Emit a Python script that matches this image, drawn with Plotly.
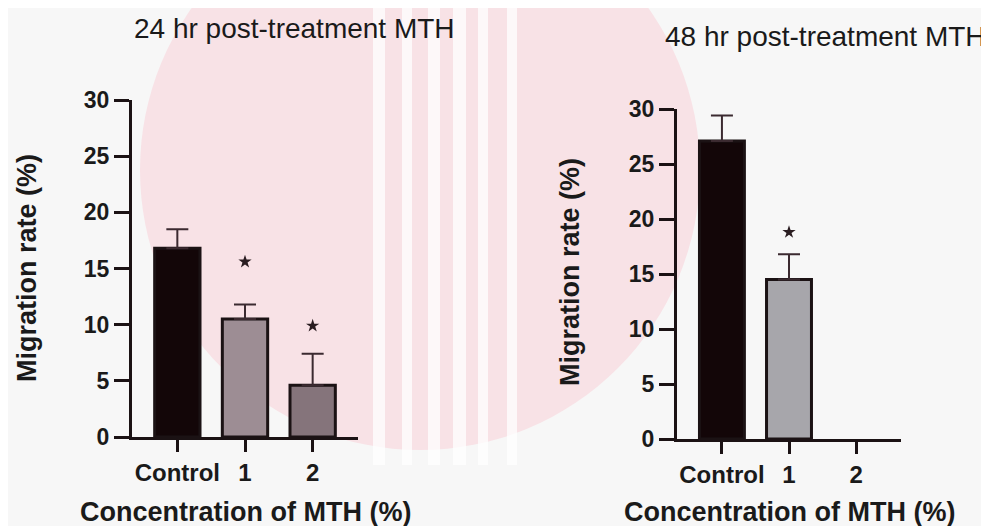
import plotly.graph_objects as go

# ---------------- data ----------------
categories = ["Control", "1", "2"]

rate_24h = [16.8, 10.5, 4.6]
sem_24h = [1.7, 1.3, 2.8]
star_24h = [None, 15.6, 9.9]

rate_48h = [27.1, 14.5, None]
sem_48h = [2.3, 2.3, None]
star_48h = [None, 18.8, None]

y_ticks = [0, 5, 10, 15, 20, 25, 30]

title_24h = "24 hr post-treatment MTH"
title_48h = "48 hr post-treatment MTH"
y_title = "Migration rate (%)"
x_title = "Concentration of MTH (%)"

# ---------------- style ----------------
W, H = 989, 526
OFF = 8  # page body margin of the rendered html
FONT = "Liberation Sans, Arial, sans-serif"
INK = "#1b1214"
colors_24h = ["#130608", "#9d8d94", "#85747b"]
colors_48h = ["#130608", "#a7a6ab", "#ffffff"]


def px_x(p):
    return (p - OFF) / W


def px_y(p):
    return 1 - (p - OFF) / H


fig = go.Figure()


def add_panel(vals, errs, stars, colors, xa, ya):
    fig.add_trace(go.Bar(
        x=categories, y=vals, width=0.67,
        marker=dict(color=colors, line=dict(color=INK, width=3)),
        error_y=dict(type="data", array=errs, arrayminus=[0] * len(errs),
                     symmetric=False, color="#3b2a30", thickness=2, width=11),
        xaxis=xa, yaxis=ya, showlegend=False, hoverinfo="x+y",
    ))
    fig.add_trace(go.Scatter(
        x=categories, y=stars, mode="markers",
        marker=dict(symbol="star", size=10, color="#2a1d21"),
        xaxis=xa, yaxis=ya, showlegend=False, hoverinfo="skip",
    ))


add_panel(rate_24h, sem_24h, star_24h, colors_24h, "x", "y")
add_panel(rate_48h, sem_48h, star_48h, colors_48h, "x2", "y2")

xaxis_common = dict(
    type="category", range=[-0.67, 2.67], showline=True, linewidth=3,
    linecolor=INK, ticks="outside", ticklen=12, tickwidth=3, tickcolor=INK,
    showgrid=False, zeroline=False, automargin=False, fixedrange=True,
    tickfont=dict(family=FONT, size=24, color="#1a1a1a", weight="bold"),
)
yaxis_common = dict(
    range=[0, 30], tickvals=y_ticks, showline=True, linewidth=3,
    linecolor=INK, ticks="outside", ticklen=15, tickwidth=3, tickcolor=INK,
    showgrid=False, zeroline=False, automargin=False, fixedrange=True,
    tickfont=dict(family=FONT, size=23, color="#1a1a1a", weight="bold"),
)

fig.update_layout(
    width=W, height=H,
    margin=dict(l=0, r=0, t=0, b=0),
    paper_bgcolor="#f7f7f7", plot_bgcolor="rgba(0,0,0,0)",
    xaxis=dict(domain=[px_x(132), px_x(358)], anchor="y", **xaxis_common),
    yaxis=dict(domain=[px_y(437), px_y(100)], anchor="x", **yaxis_common),
    xaxis2=dict(domain=[px_x(677), px_x(901)], anchor="y2", **xaxis_common),
    yaxis2=dict(domain=[px_y(439), px_y(109)], anchor="x2", **yaxis_common),
)

# ---------------- faint watermark background ----------------
shapes = [
    dict(type="circle", xref="paper", yref="paper", layer="below",
         x0=px_x(140), x1=px_x(700), y0=px_y(450), y1=px_y(-110),
         fillcolor="#f8e2e6", line=dict(width=0)),
]
for x0, x1 in [(373, 385), (402, 412), (428, 440), (453, 466), (478, 488), (507, 517)]:
    shapes.append(dict(type="rect", xref="paper", yref="paper", layer="below",
                       x0=px_x(x0), x1=px_x(x1), y0=px_y(465), y1=px_y(0),
                       fillcolor="rgba(255,255,255,0.75)", line=dict(width=0)))
fig.update_layout(shapes=shapes)


def label(text, x, y, size, bold=False, angle=0, xref="paper"):
    f = dict(family=FONT, size=size, color="#1a1a1a")
    if bold:
        f["weight"] = "bold"
    return dict(text=text, xref=xref, yref="paper", x=x, y=y, showarrow=False,
                xanchor="center", yanchor="middle", textangle=angle, font=f)


annotations = [
    label(title_24h, px_x(294), px_y(29), 28),
    label(title_48h, px_x(825), px_y(36), 28),
    label(y_title, px_x(27), px_y(268), 27, bold=True, angle=-90),
    label(y_title, px_x(570), px_y(272), 27, bold=True, angle=-90),
    label(x_title, 0.5, px_y(512), 27, bold=True, xref="x domain"),
    label(x_title, 0.5, px_y(512), 27, bold=True, xref="x2 domain"),
]
fig.update_layout(annotations=annotations)

fig.write_html("out.html", config={"displayModeBar": False})
